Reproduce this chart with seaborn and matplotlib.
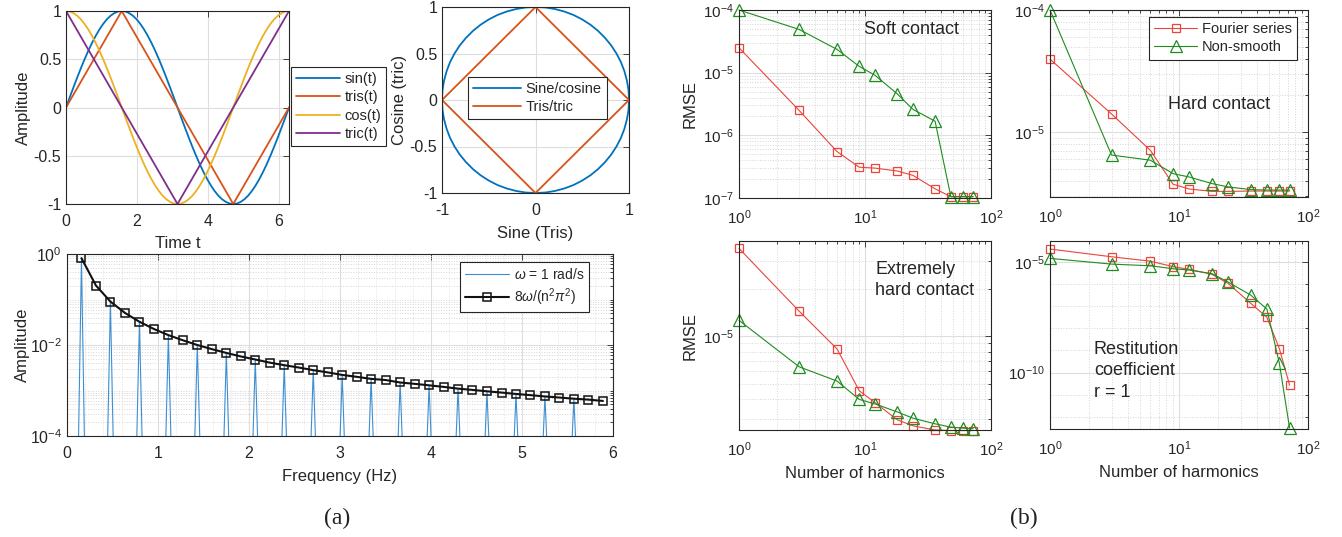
import numpy as np
import pandas as pd
import matplotlib
matplotlib.use('Agg')
import matplotlib.pyplot as plt
import matplotlib.ticker as mticker
import seaborn as sns

sns.set_theme(style='white')
plt.rcParams['font.family'] = ['Liberation Sans', 'DejaVu Sans']
plt.rcParams['mathtext.fontset'] = 'custom'
plt.rcParams['mathtext.rm'] = 'Liberation Sans'
plt.rcParams['mathtext.it'] = 'Liberation Sans:italic'
plt.rcParams['axes.unicode_minus'] = False

# ---------------- data ----------------
angle_deg = list(range(0, 361, 6))
sin_vals = [0, .105, .208, .309, .407, .5, .588, .669, .743, .809, .866, .914, .951, .978, .995, 1,
            .995, .978, .951, .914, .866, .809, .743, .669, .588, .5, .407, .309, .208, .105, 0,
            -.105, -.208, -.309, -.407, -.5, -.588, -.669, -.743, -.809, -.866, -.914, -.951, -.978, -.995, -1,
            -.995, -.978, -.951, -.914, -.866, -.809, -.743, -.669, -.588, -.5, -.407, -.309, -.208, -.105, 0]
cos_vals = [1, .995, .978, .951, .914, .866, .809, .743, .669, .588, .5, .407, .309, .208, .105, 0,
            -.105, -.208, -.309, -.407, -.5, -.588, -.669, -.743, -.809, -.866, -.914, -.951, -.978, -.995, -1,
            -.995, -.978, -.951, -.914, -.866, -.809, -.743, -.669, -.588, -.5, -.407, -.309, -.208, -.105, 0,
            .105, .208, .309, .407, .5, .588, .669, .743, .809, .866, .914, .951, .978, .995, 1]
tris_deg = [0, 90, 270, 360]
tris_vals = [0, 1, -1, 0]
tric_deg = [0, 180, 360]
tric_vals = [1, -1, 1]
diamond_x = [0, 1, 0, -1, 0]
diamond_y = [1, 0, -1, 0, 1]

harm_freq = [0.159, 0.318, 0.477, 0.637, 0.796, 0.955, 1.114, 1.273, 1.432, 1.592,
             1.751, 1.910, 2.069, 2.228, 2.387, 2.546, 2.706, 2.865, 3.024, 3.183,
             3.342, 3.501, 3.661, 3.820, 3.979, 4.138, 4.297, 4.456, 4.615, 4.775,
             4.934, 5.093, 5.252, 5.411, 5.570, 5.730, 5.889]
harm_amp = [0.811, 0.203, 0.090, 0.0507, 0.0324, 0.0225, 0.0165, 0.0127, 0.0100, 0.0081,
            0.0067, 0.0056, 0.0048, 0.0041, 0.0036, 0.0032, 0.0028, 0.0025, 0.0022, 0.0020,
            0.0018, 0.0017, 0.0015, 0.0014, 0.0013, 0.0012, 0.0011, 0.00103, 0.00096, 0.00090,
            0.00084, 0.00079, 0.00074, 0.00070, 0.00066, 0.00063, 0.00059]
peak_freq = harm_freq[0::2][:18]
peak_amp = harm_amp[0::2][:18]

n_harm = [1, 3, 6, 9, 12, 18, 24, 36, 48, 60, 72]
soft_fourier = [2.5e-5, 2.5e-6, 5.5e-7, 3.1e-7, 3.0e-7, 2.7e-7, 2.3e-7, 1.4e-7, 1.05e-7, 1.05e-7, 1.05e-7]
soft_nonsmooth = [1.0e-4, 4.9e-5, 2.35e-5, 1.26e-5, 9.1e-6, 4.6e-6, 2.6e-6, 1.68e-6, 1.05e-7, 1.05e-7, 1.05e-7]
hard_fourier = [3.96e-5, 1.41e-5, 7.1e-6, 3.75e-6, 3.43e-6, 3.28e-6, 3.28e-6, 3.3e-6, 3.3e-6, 3.3e-6, 3.3e-6]
hard_nonsmooth = [1.0e-4, 6.5e-6, 5.9e-6, 4.58e-6, 4.3e-6, 3.8e-6, 3.57e-6, 3.39e-6, 3.36e-6, 3.36e-6, 3.36e-6]
ext_fourier = [3.59e-5, 1.44e-5, 8.3e-6, 4.52e-6, 3.8e-6, 2.96e-6, 2.71e-6, 2.55e-6, 2.53e-6, 2.53e-6, 2.53e-6]
ext_nonsmooth = [1.26e-5, 6.4e-6, 5.2e-6, 3.98e-6, 3.73e-6, 3.32e-6, 3.03e-6, 2.79e-6, 2.66e-6, 2.62e-6, 2.6e-6]
rest_fourier = [3.9e-5, 1.74e-5, 1.1e-5, 6.2e-6, 4.7e-6, 2.8e-6, 1.09e-6, 1.36e-7, 3.2e-8, 1.2e-9, 2.7e-11]
rest_nonsmooth = [1.47e-5, 8.1e-6, 6.8e-6, 5.0e-6, 4.35e-6, 3.0e-6, 1.25e-6, 3.2e-7, 7.5e-8, 2.6e-10, 3.05e-13]

# ---------------- styles ----------------
BLUE, ORANGE, YELLOW, PURPLE = '#0072BD', '#D95319', '#EDB120', '#7E2F8E'
RED, GREEN = '#e8453c', '#1e8c1e'
AX_COL = '#262626'
W, H = 1342, 537


def box(l, r, t, b):
    return [l / W, 1 - b / H, (r - l) / W, (b - t) / H]


def matlab_axes(ax, fs, xpad=7):
    for s in ax.spines.values():
        s.set_color(AX_COL)
        s.set_linewidth(0.8)
        s.set_visible(True)
    ax.tick_params(which='both', direction='in', top=True, right=True,
                   colors=AX_COL, labelsize=fs, width=0.6)
    ax.tick_params(which='major', length=4)
    ax.tick_params(which='minor', length=2)
    ax.tick_params(axis='x', which='both', pad=xpad)
    ax.set_axisbelow(True)


def line(ax, x, y, **kw):
    sns.lineplot(x=x, y=y, ax=ax, estimator=None, sort=False, **kw)
    if ax.get_legend() is not None:
        ax.get_legend().remove()


def legend(ax, fs, **kw):
    lg = ax.legend(fontsize=fs, fancybox=False, framealpha=1, edgecolor=AX_COL,
                   borderpad=0.35, labelspacing=0.3, handletextpad=0.3, borderaxespad=0, **kw)
    lg.get_frame().set_linewidth(0.8)
    return lg


fig = plt.figure(figsize=(13.42, 5.37), dpi=100)

# ---------------- (a) top-left: waveforms ----------------
ax1 = fig.add_axes(box(66, 289, 11, 204))
t = np.deg2rad(angle_deg)
line(ax1, t, sin_vals, color=BLUE, lw=1.3, label='sin(t)')
line(ax1, np.deg2rad(tris_deg), tris_vals, color=ORANGE, lw=1.3, label='tris(t)')
line(ax1, t, cos_vals, color=YELLOW, lw=1.3, label='cos(t)')
line(ax1, np.deg2rad(tric_deg), tric_vals, color=PURPLE, lw=1.3, label='tric(t)')
ax1.set_xlim(0, 2 * np.pi)
ax1.set_ylim(-1, 1)
ax1.set_xticks([0, 2, 4, 6])
ax1.set_yticks([-1, -0.5, 0, 0.5, 1])
ax1.yaxis.set_major_formatter(mticker.FormatStrFormatter('%g'))
ax1.grid(True, color='#dedede', lw=0.8)
matlab_axes(ax1, 11.5)
ax1.set_xlabel('Time t', fontsize=12, labelpad=5)
ax1.set_ylabel('Amplitude', fontsize=12, labelpad=2)
legend(ax1, 10.5, loc='upper left', bbox_to_anchor=(1.01, 0.71), handlelength=3.0)

# ---------------- (a) top-right: phase portrait ----------------
ax2 = fig.add_axes(box(442, 629, 7, 193))
line(ax2, sin_vals, cos_vals, color=BLUE, lw=1.3, label='Sine/cosine')
line(ax2, diamond_x, diamond_y, color=ORANGE, lw=1.3, label='Tris/tric')
ax2.set_xlim(-1, 1)
ax2.set_ylim(-1, 1)
ax2.set_xticks([-1, 0, 1])
ax2.set_yticks([-1, -0.5, 0, 0.5, 1])
ax2.xaxis.set_major_formatter(mticker.FormatStrFormatter('%g'))
ax2.yaxis.set_major_formatter(mticker.FormatStrFormatter('%g'))
ax2.grid(True, color='#dedede', lw=0.8)
matlab_axes(ax2, 11.5)
ax2.set_xlabel('Sine (Tris)', fontsize=12, labelpad=6)
ax2.set_ylabel('Cosine (tric)', fontsize=12, labelpad=2)
legend(ax2, 10.5, loc='center', bbox_to_anchor=(0.51, 0.51), handlelength=3.3)

# ---------------- (a) bottom: spectrum ----------------
ax3 = fig.add_axes(box(67, 613, 254, 436))
dx, floor = 0.04, 1e-5
spec_x, spec_y = [], []
for f, a in zip(peak_freq, peak_amp):
    spec_x += [f - dx, f, f + dx]
    spec_y += [floor, a, floor]
line(ax3, spec_x, spec_y, color='#3d8fd1', lw=0.8, label=r'$\omega$ = 1 rad/s')
line(ax3, harm_freq, harm_amp, color='#111111', lw=1.5, marker='s', markersize=5.5,
     markerfacecolor='none', markeredgecolor='#111111', markeredgewidth=1.1,
     label=r'8$\omega$/(n$^2\pi^2$)')
ax3.set_yscale('log')
ax3.set_xlim(0, 6)
ax3.set_ylim(1e-4, 1)
ax3.yaxis.set_major_locator(mticker.FixedLocator([1e-4, 1e-2, 1]))
ax3.yaxis.set_minor_locator(mticker.LogLocator(base=10, subs=np.arange(1, 10), numticks=40))
ax3.yaxis.set_minor_formatter(mticker.NullFormatter())
ax3.grid(True, which='major', color='#dedede', lw=0.8)
ax3.grid(True, which='minor', axis='y', color='#d6d6d6', lw=0.7, ls=':')
ax3.xaxis.set_minor_locator(mticker.MultipleLocator(0.2))
ax3.grid(True, which='minor', axis='x', color='#e2e2e2', lw=0.7, ls=':')
matlab_axes(ax3, 11.5)
ax3.tick_params(which='minor', axis='x', length=0)
ax3.set_xlabel('Frequency (Hz)', fontsize=12, labelpad=6)
ax3.set_ylabel('Amplitude', fontsize=12, labelpad=0)
legend(ax3, 10, loc='upper right', bbox_to_anchor=(0.956, 0.956), handlelength=3.2)

# ---------------- (b) RMSE vs number of harmonics ----------------
panels = [
    (box(739, 991, 10, 198), soft_fourier, soft_nonsmooth, (1e-7, 1e-4)),
    (box(1050, 1308, 10, 197), hard_fourier, hard_nonsmooth, (2.95e-6, 1e-4)),
    (box(739, 991, 241, 430), ext_fourier, ext_nonsmooth, (2.55e-6, 4e-5)),
    (box(1050, 1308, 241, 429), rest_fourier, rest_nonsmooth, (2.8e-13, 9e-5)),
]
axes_b = []
for i, (rect, fser, nsm, ylim) in enumerate(panels):
    ax = fig.add_axes(rect)
    line(ax, n_harm, fser, color=RED, lw=0.8, marker='s', markersize=6,
         markerfacecolor='none', markeredgecolor=RED, markeredgewidth=0.9,
         clip_on=False, label='Fourier series')
    line(ax, n_harm, nsm, color=GREEN, lw=0.8, marker='^', markersize=8,
         markerfacecolor='none', markeredgecolor=GREEN, markeredgewidth=0.9,
         clip_on=False, label='Non-smooth')
    ax.set_xscale('log')
    ax.set_yscale('log')
    ax.set_xlim(1, 100)
    ax.set_ylim(*ylim)
    ax.xaxis.set_major_locator(mticker.LogLocator(base=10, numticks=5))
    ax.xaxis.set_minor_locator(mticker.LogLocator(base=10, subs=np.arange(2, 10), numticks=12))
    ax.xaxis.set_minor_formatter(mticker.NullFormatter())
    if i == 2:
        ax.yaxis.set_major_locator(mticker.FixedLocator([1e-5]))
    elif i == 3:
        ax.yaxis.set_major_locator(mticker.FixedLocator([1e-10, 1e-5]))
    else:
        ax.yaxis.set_major_locator(mticker.LogLocator(base=10, numticks=12))
    if i == 3:
        ax.yaxis.set_minor_locator(mticker.LogLocator(base=10, subs=(1.0,), numticks=30))
    else:
        ax.yaxis.set_minor_locator(mticker.LogLocator(base=10, subs=np.arange(2, 10), numticks=30))
    ax.yaxis.set_minor_formatter(mticker.NullFormatter())
    ax.grid(True, which='major', color='#dedede', lw=0.8)
    ax.grid(True, which='minor', color='#d6d6d6', lw=0.7, ls=':')
    matlab_axes(ax, 11, xpad=7.5)
    axes_b.append(ax)

ax4, ax5, ax6, ax7 = axes_b
ax4.set_ylabel('RMSE', fontsize=12, labelpad=4)
ax6.set_ylabel('RMSE', fontsize=12, labelpad=4)
ax6.set_xlabel('Number of harmonics', fontsize=12, labelpad=5)
ax7.set_xlabel('Number of harmonics', fontsize=12, labelpad=5)
legend(ax5, 10.5, loc='upper right', bbox_to_anchor=(0.957, 0.963), handlelength=3.0)

ax4.text(0.498, 0.894, 'Soft contact', transform=ax4.transAxes, fontsize=13,
         ha='left', va='center', color=AX_COL)
ax5.text(0.457, 0.492, 'Hard contact', transform=ax5.transAxes, fontsize=13,
         ha='left', va='center', color=AX_COL)
ax6.text(0.54, 0.794, 'Extremely\nhard contact', transform=ax6.transAxes, fontsize=13,
         ha='left', va='center', color=AX_COL, linespacing=1.3)
ax7.text(0.17, 0.309, 'Restitution\ncoefficient\nr = 1', transform=ax7.transAxes, fontsize=13,
         ha='left', va='center', color=AX_COL, linespacing=1.35)

# ---------------- sub-figure captions ----------------
fig.text(337 / W, 1 - 518 / H, '(a)', fontsize=17, family='Liberation Serif',
         ha='center', va='center', color='#222222')
fig.text(1024 / W, 1 - 518 / H, '(b)', fontsize=17, family='Liberation Serif',
         ha='center', va='center', color='#222222')

fig.savefig('out.png', dpi=100)
